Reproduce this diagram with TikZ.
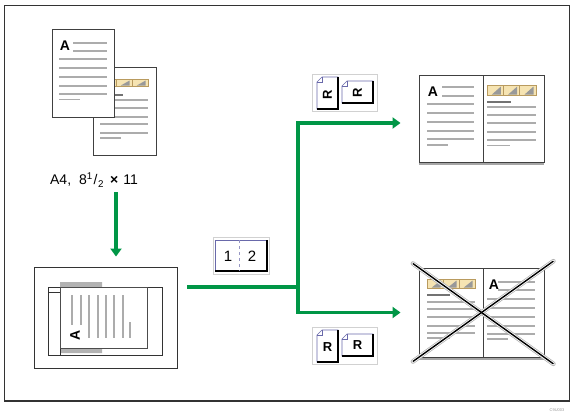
\documentclass[tikz,border=0pt]{standalone}
\usepackage{fontspec}
\setmainfont{Liberation Sans}
\usetikzlibrary{arrows.meta,positioning,calc}

\definecolor{flowgreen}{RGB}{0,150,70}
\definecolor{txtline}{RGB}{172,172,172}
\definecolor{photo}{RGB}{246,228,178}
\definecolor{photoedge}{RGB}{185,155,95}
\definecolor{iconblue}{RGB}{105,105,170}

\tikzset{
  sheet/.style={draw=black!75, fill=white, line width=0.9pt,
    minimum width=#1, inner sep=0pt},
  tline/.style={draw=txtline, line width=1.6pt},
  dline/.style={draw=black!55, line width=2pt},
  flow/.style={draw=flowgreen, line width=3.5pt, line join=miter,
    -{Triangle[length=8pt,width=11pt]}},
  iconframe/.style={draw=black!18, line width=0.8pt, fill=white, inner sep=0pt},
  bigA/.style={font=\bfseries\fontsize{14}{14}\selectfont, inner sep=0pt},
  sheetR/.style={font=\bfseries\fontsize{13}{13}\selectfont, inner sep=0pt}
}

% photo band with three little charts
\newcommand{\photostrip}[4]{%
  \draw[photoedge, fill=photo, line width=0.6pt] (#1,#2) rectangle (#3,#4);
  \pgfmathsetmacro{\stripw}{(#3-#1)/3}
  \foreach \k in {0,1,2}{
    \draw[photoedge, line width=0.5pt] ({#1+\k*\stripw},#2) -- ({#1+\k*\stripw},#4);
    \fill[black!40] ({#1+\k*\stripw+0.3*\stripw},{#4-0.5}) -- ({#1+\k*\stripw+0.85*\stripw},{#4-0.5})
      -- ({#1+\k*\stripw+0.85*\stripw},{#2+1.5}) -- cycle;
  }
}

% small sheet with folded corner inside an icon
\newcommand{\smallsheet}[5]{%
  \path ($(#1)+(#2,#3)$) coordinate (s0) ($(#1)+(#4,#5)$) coordinate (s1);
  \draw[iconblue, fill=white, line width=0.6pt] ($(s0)+(5,0)$) -- (s0 -| s1) -- (s1)
    -- (s0 |- s1) -- ($(s0)+(0,5)$) -- cycle;
  \draw[iconblue, line width=0.6pt] ($(s0)+(5,0)$) -- ($(s0)+(5,5)$) -- ($(s0)+(0,5)$);
  \draw[black, line width=1.3pt] (s0 -| s1) -- (s1) -- (s0 |- s1);
}

\begin{document}
\begin{tikzpicture}[x=1pt, y=-1pt]
  \useasboundingbox (0,0) rectangle (576,418);
  \draw[black!80, line width=1.6pt] (4.5,5.5) rectangle (569.5,401);
  \node[text=black!40, font=\fontsize{4}{4}\selectfont, inner sep=0pt] (code) at (557,410) {C9U003};

  % originals
  \node[sheet=63pt, minimum height=88pt] (pageB) at (124.5,111) {};
  \photostrip{100}{79}{148}{86}
  \draw[dline] (114,95) -- (123,95);
  \foreach \y in {100,108,117,124,133}
    \draw[tline] (100,\y) -- (148,\y);
  \draw[tline] (100,138) -- (121,138);

  \node[sheet=62pt, minimum height=88pt] (pageA) at (83,73) {};
  \node[bigA] (pageA-A) at (65,46) {A};
  \foreach \y in {43,51}
    \draw[tline] (73,\y) -- (107,\y);
  \foreach \y in {59,68,77,86,94}
    \draw[tline] (59,\y) -- (107,\y);
  \draw[tline] (59,99.5) -- (80,99.5);

  \node[font=\fontsize{14}{16}\selectfont, inner sep=1pt] (size) at (94,180)
    {A4,\hspace{8pt}8\textsuperscript{1}\kern.05em/\kern.05em\textsubscript{2}\hspace{6pt}\textbf{×}\hspace{5pt}11};

  % scanner glass with the original laid on it
  \node[sheet=143pt, minimum height=101pt, draw=black!80] (scan) at (105.5,317.5) {};
  \fill[black!30] (60,282) rectangle (102,288) (60,348) rectangle (102,353);
  \draw[black!80, line width=0.8pt] (48,287) rectangle (162,355);
  \draw[black!80, line width=0.8pt, fill=white] (48,287) rectangle (60,355);
  \draw[black!80, line width=0.6pt] (48,292) -- (60,292);
  \draw[black!70, fill=white, line width=0.8pt] (60,287) rectangle (147,348);
  \foreach \x in {72,81}
    \draw[tline] (\x,295) -- (\x,325);
  \foreach \x in {89,98,106,114,123}
    \draw[tline] (\x,295) -- (\x,338);
  \draw[tline] (130,322) -- (130,338);
  \node[bigA, rotate=90] (scan-A) at (75,335) {A};

  % finishing icons
  \node[iconframe, minimum width=56pt, minimum height=37pt] (dup) at (241,256) {};
  \draw[iconblue, line width=0.7pt] (215,271) -- (215,240) -- (267,240);
  \draw[black, line width=1.3pt] (267,240) -- (267,271) -- (215,271);
  \draw[iconblue!70, dashed, line width=0.6pt] (239,240) -- (239,271);
  \node[font=\fontsize{15}{15}\selectfont, inner sep=0pt] (dup-1) at (228,256) {1};
  \node[font=\fontsize{15}{15}\selectfont, inner sep=0pt] (dup-2) at (252,256) {2};

  \node[iconframe, minimum width=65pt, minimum height=37pt] (rotup) at (344.5,92.5) {};
  \smallsheet{rotup}{-27.5}{-15.5}{-6.5}{16.5}
  \smallsheet{rotup}{-2.5}{-11.5}{28.5}{10.5}
  \node[sheetR, rotate=90] (rotup-R1) at ($(rotup)+(-17,2)$) {R};
  \node[sheetR, rotate=90] (rotup-R2) at ($(rotup)+(13,0)$) {R};

  \node[iconframe, minimum width=65pt, minimum height=37pt] (rotdown) at (344.5,345.5) {};
  \smallsheet{rotdown}{-27.5}{-15.5}{-6.5}{16.5}
  \smallsheet{rotdown}{-2.5}{-11.5}{28.5}{10.5}
  \node[sheetR] (rotdown-R1) at ($(rotdown)+(-17,2)$) {R};
  \node[sheetR] (rotdown-R2) at ($(rotdown)+(13,0)$) {R};

  % booklet opened the right way
  \node[sheet=125pt, minimum height=87pt] (upbook) at (481.5,118.5) {};
  \draw[black!35, line width=1.5pt] ([yshift=-1.5pt]upbook.south west) -- ([yshift=-1.5pt]upbook.south east);
  \draw[black!75, line width=0.9pt] (483,75) -- (483,162);
  \node[bigA] (upbook-A) at (433,92) {A};
  \foreach \y in {87,96}
    \draw[tline] (442,\y) -- (474,\y);
  \foreach \y in {104,113,122,131,139}
    \draw[tline] (427,\y) -- (474,\y);
  \draw[tline] (427,145) -- (448,145);
  \photostrip{487}{85}{536}{95}
  \draw[dline] (487,102) -- (511,102);
  \foreach \y in {107,115,123,132,140}
    \draw[tline] (487,\y) -- (536,\y);
  \draw[tline] (487,145.5) -- (510,145.5);

  % booklet opened the wrong way
  \node[sheet=125pt, minimum height=89pt] (downbook) at (481.5,312.5) {};
  \draw[black!35, line width=1.5pt] ([yshift=-1.5pt]downbook.south west) -- ([yshift=-1.5pt]downbook.south east);
  \draw[black!75, line width=0.9pt] (483,268) -- (483,357);
  \photostrip{427}{279}{475}{288}
  \draw[dline] (427,295) -- (450,295);
  \foreach \y in {302,309,317,326,333}
    \draw[tline] (427,\y) -- (475,\y);
  \draw[tline] (427,338) -- (450,338);
  \node[bigA] (downbook-A) at (494,285) {A};
  \foreach \y in {282,290}
    \draw[tline] (498,\y) -- (535,\y);
  \foreach \y in {299,308,317,326,334}
    \draw[tline] (487,\y) -- (535,\y);
  \draw[tline] (487,339) -- (508,339);
  \foreach \a/\b in {downbook.north west/downbook.south east, downbook.south west/downbook.north east}{
    \draw[black!30, line width=4.5pt, line cap=round, shorten <=-7pt, shorten >=-11pt] (\a) -- (\b);
    \draw[white, line width=3pt, line cap=round, shorten <=-7pt, shorten >=-11pt] (\a) -- (\b);
  }
  \foreach \a/\b in {downbook.north west/downbook.south east, downbook.south west/downbook.north east}
    \draw[black, line width=1.4pt, shorten <=-7pt, shorten >=-11pt] (\a) -- (\b);

  % paper flow
  \coordinate (split) at (298,287);
  \draw[flow, shorten <=4pt, shorten >=10pt] ([xshift=22pt]size.south) -- ([xshift=10.5pt]scan.north);
  \draw[flow, -, shorten <=10pt] (scan.east |- split) -- (split);
  \draw[flow, shorten >=18pt] (split) |- ([yshift=-4.5pt]upbook.west);
  \draw[flow, shorten >=18pt] (split) |- (downbook.west);
\end{tikzpicture}
\end{document}
